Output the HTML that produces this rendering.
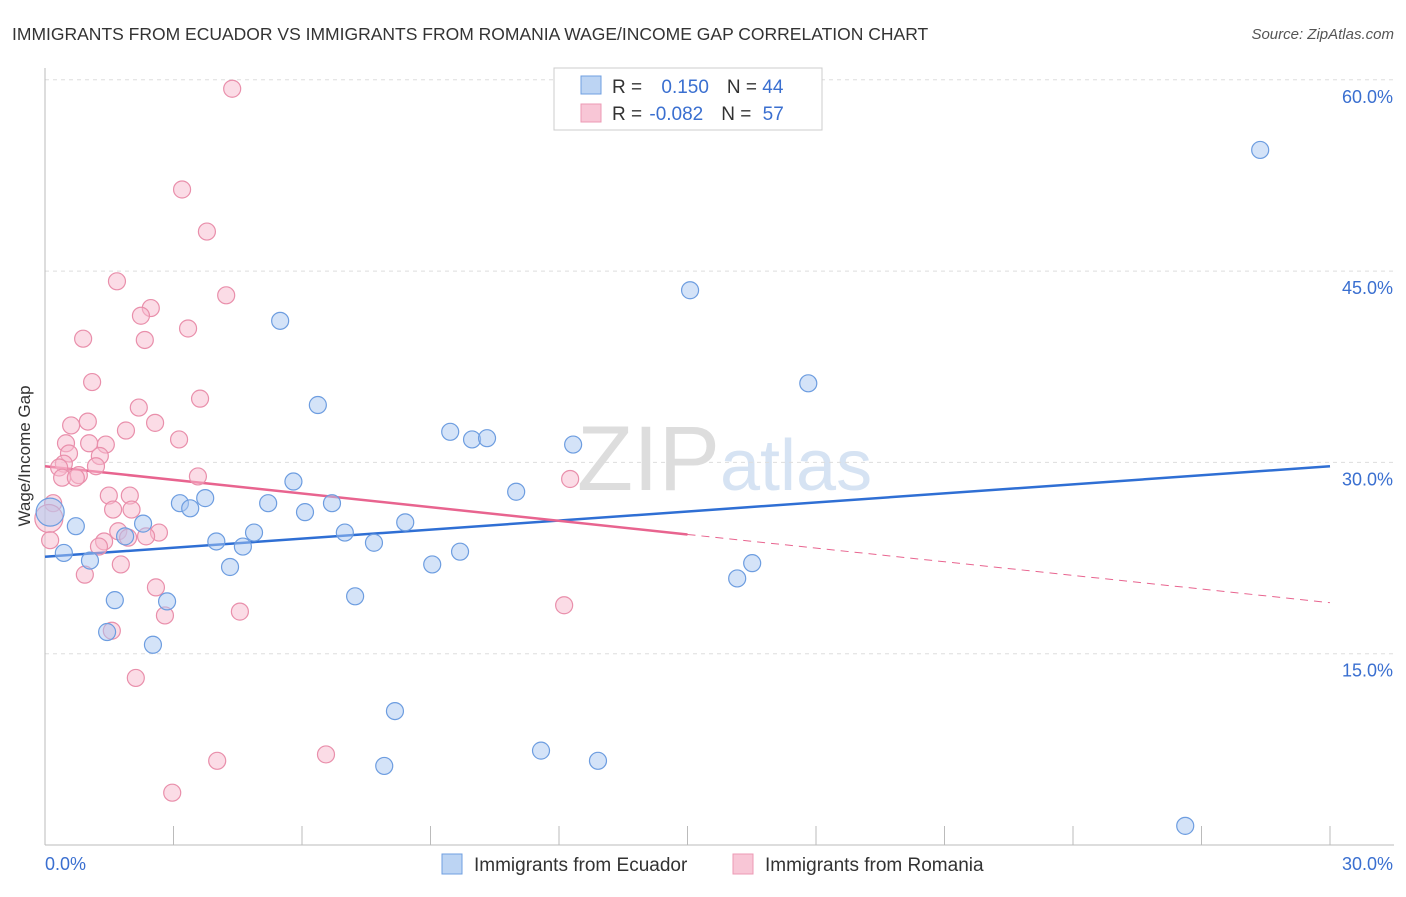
<!DOCTYPE html>
<html><head><meta charset="utf-8"><style>
body{margin:0;background:#fff;font-family:"Liberation Sans",sans-serif;}
svg text{font-family:"Liberation Sans",sans-serif;}
</style></head><body>
<svg width="1406" height="892" xmlns="http://www.w3.org/2000/svg" id="chart">
<text x="12" y="40" font-size="17.5" fill="#333">IMMIGRANTS FROM ECUADOR VS IMMIGRANTS FROM ROMANIA WAGE/INCOME GAP CORRELATION CHART</text>
<text x="1394" y="39" font-size="15" fill="#555" font-style="italic" text-anchor="end">Source: ZipAtlas.com</text>
<text x="30" y="456" font-size="17" fill="#333" text-anchor="middle" transform="rotate(-90 30 456)">Wage/Income Gap</text>
<text x="720" y="490" font-size="92" fill="#ddd" text-anchor="end" font-family="Liberation Serif">ZIP</text>
<text x="720" y="490" font-size="72" fill="#d6e3f3">atlas</text>
<g id="grid"></g><g id="axes"></g><g id="trends"></g><g id="pts"></g>
<g>
<rect x="554" y="68" width="268" height="62" fill="#fff" stroke="#ccc"/>
<rect x="581" y="76" width="20" height="18" fill="#bcd4f3" stroke="#6f9fe0"/>
<rect x="581" y="104" width="20" height="18" fill="#f8c6d6" stroke="#ec9ab4"/>
<text x="612" y="93" font-size="19" fill="#333">R = <tspan fill="#3a6fd0" dx="14">0.150</tspan><tspan fill="#333" dx="18">N = </tspan><tspan fill="#3a6fd0">44</tspan></text>
<text x="612" y="120" font-size="19" fill="#333">R = <tspan fill="#3a6fd0" dx="2">-0.082</tspan><tspan fill="#333" dx="18">N = </tspan><tspan fill="#3a6fd0" dx="6">57</tspan></text>
</g>
<g>
<rect x="442" y="854" width="20" height="20" fill="#bcd4f3" stroke="#6f9fe0"/>
<text x="474" y="871" font-size="19" fill="#333">Immigrants from Ecuador</text>
<rect x="733" y="854" width="20" height="20" fill="#f8c6d6" stroke="#ec9ab4"/>
<text x="765" y="871" font-size="19" fill="#333">Immigrants from Romania</text>
</g>
</svg>
<script>
const yTicks=[15,30,45,60];
const xTickLabels=["0.0%","30.0%"];
const blueX=[28.37,15.06,5.49,17.82,6.37,9.46,9.97,10.32,12.33,11.0,5.8,3.15,3.39,3.74,5.21,6.07,6.7,2.29,0.72,8.41,7.0,4.88,1.87,4.0,4.62,7.68,0.44,1.05,9.69,9.04,4.32,16.51,16.16,1.63,2.85,7.24,1.45,2.52,8.17,11.58,12.91,7.92,26.62,0.12];
const blueY=[54.5,43.5,41.1,36.2,34.5,32.4,31.8,31.9,31.4,27.7,28.5,26.8,26.4,27.2,26.8,26.1,26.8,25.2,25.0,25.3,24.5,24.5,24.2,23.8,23.4,23.7,22.9,22.3,23.0,22.0,21.8,22.1,20.9,19.2,19.1,19.5,16.7,15.7,10.5,7.4,6.6,6.2,1.5,26.1];
const pinkX=[4.37,3.2,3.78,1.68,4.23,2.47,2.24,3.34,0.89,2.33,1.1,3.62,2.19,1.0,0.61,1.89,2.57,3.13,0.49,1.03,1.42,0.56,1.28,0.44,1.19,0.33,0.79,0.4,3.57,0.72,12.26,1.49,1.98,0.19,1.59,2.02,0.09,1.71,2.66,2.36,1.94,1.38,1.26,0.12,1.77,0.93,2.59,12.12,4.55,2.8,1.56,2.12,6.56,4.02,2.97];
const pinkY=[59.3,51.4,48.1,44.2,43.1,42.1,41.5,40.5,39.7,39.6,36.3,35.0,34.3,33.2,32.9,32.5,33.1,31.8,31.5,31.5,31.4,30.7,30.5,29.9,29.7,29.6,29.0,28.8,28.9,28.8,28.7,27.4,27.4,26.8,26.3,26.3,25.6,24.6,24.5,24.2,24.1,23.8,23.4,23.9,22.0,21.2,20.2,18.8,18.3,18.0,16.8,13.1,7.1,6.6,4.1];
const blueTrend=[22.6,29.7];
const pinkTrend=[29.7,19.0];
const pinkSolidEnd=15;
const NS="http://www.w3.org/2000/svg";
const X=v=>45+v/30*1285;
const Y=v=>845-v/15*191.3;
function mk(t,a,p){const e=document.createElementNS(NS,t);for(const k in a)e.setAttribute(k,a[k]);p.appendChild(e);return e;}
const grid=document.getElementById('grid'),axes=document.getElementById('axes'),tr=document.getElementById('trends'),pts=document.getElementById('pts');
yTicks.forEach(t=>{
 const l=mk('line',{x1:45,x2:1394,y1:Y(t),y2:Y(t),stroke:'#ddd','stroke-dasharray':'4,4'},grid);
 
 
 const tx=mk('text',{x:1393,y:Y(t)+23,'font-size':18,fill:'#3a6fd0','text-anchor':'end'},axes);
 tx.textContent=t.toFixed(1)+'%';
 
 
});
const ax=mk('line',{x1:45,x2:45,y1:68,y2:845,stroke:'#bbb'},axes);


const bx=mk('line',{x1:45,x2:1394,y1:845,y2:845,stroke:'#bbb'},axes);


for(let i=0;i<=10;i++){const tk=mk('line',{x1:X(i*3),x2:X(i*3),y1:826,y2:845,stroke:'#bbb'},axes);
 
 }
const xl0=mk('text',{x:45,y:870,'font-size':18,fill:'#3a6fd0'},axes);xl0.textContent=xTickLabels[0];


const xl1=mk('text',{x:1393,y:870,'font-size':18,fill:'#3a6fd0','text-anchor':'end'},axes);xl1.textContent=xTickLabels[1];


function dot(x,y,r,f,s,n){const c=mk('circle',{cx:X(x),cy:Y(y),r:r,fill:f,'fill-opacity':0.5,stroke:s,'stroke-width':1.2},pts);
 
 }
pinkX.forEach((x,i)=>dot(x,pinkY[i],(x<0.15&&Math.abs(pinkY[i]-25.6)<0.1)?14:8.5,'#f7b9cd','#e98fab','romania-point'));
blueX.forEach((x,i)=>dot(x,blueY[i],(x<0.15)?14:8.5,'#a9c8f1','#6d9de0','ecuador-point'));
const pt=v=>pinkTrend[0]+(pinkTrend[1]-pinkTrend[0])*v/30;
const bl=mk('line',{x1:X(0),y1:Y(blueTrend[0]),x2:X(30),y2:Y(blueTrend[1]),stroke:'#2f6fd4','stroke-width':2.5},tr);


const pl=mk('line',{x1:X(0),y1:Y(pt(0)),x2:X(pinkSolidEnd),y2:Y(pt(pinkSolidEnd)),stroke:'#e8648f','stroke-width':2.5},tr);


const pd=mk('line',{x1:X(pinkSolidEnd),y1:Y(pt(pinkSolidEnd)),x2:X(30),y2:Y(pt(30)),stroke:'#e8648f','stroke-width':1,'stroke-dasharray':'8,6'},tr);


</script>
</body></html>
